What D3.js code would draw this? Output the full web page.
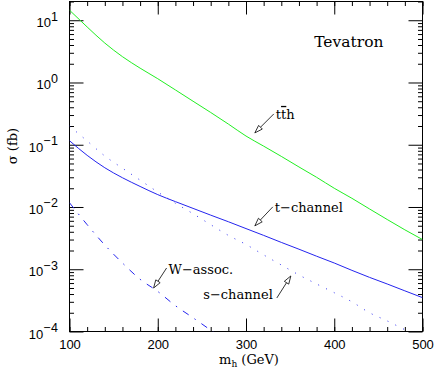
<!DOCTYPE html>
<html>
<head>
<meta charset="utf-8">
<script src="https://cdn.jsdelivr.net/npm/d3@7"></script>
<style>
  body { margin: 0; background: #fff; }
  svg { display: block; }
  .tick-label { font-family: "Liberation Sans", Arial, sans-serif; font-size: 13px; fill: #000; }
  .note { font-family: "DejaVu Serif", serif; font-size: 13px; fill: #000; }
</style>
</head>
<body>
<div id="chart"><svg></svg></div>
<script>
'use strict';

// Higgs mass grid (GeV)
var masses = [100, 120, 140, 160, 180, 200, 220, 240, 260, 280, 300,
              320, 340, 360, 380, 400, 420, 440, 460, 480, 500];

// cross sections in fb
var tthXsec = [14.5, 7.8, 4.3, 2.6, 1.7, 1.15, 0.76, 0.50, 0.33, 0.215, 0.138,
               0.095, 0.065, 0.044, 0.030, 0.020, 0.0138, 0.0093, 0.0063, 0.0043, 0.0030];
var tChannelXsec = [0.116, 0.0676, 0.0427, 0.0295, 0.0214, 0.0158, 0.0122, 0.0095, 0.0074, 0.0058, 0.0045,
                    0.0035, 0.0027, 0.0021, 0.00162, 0.00126, 0.00096, 0.00074, 0.00058, 0.00045, 0.00035];
var sChannelXsec = [0.20, 0.115, 0.066, 0.042, 0.027, 0.0174, 0.0115, 0.0078, 0.0052, 0.0035, 0.0025,
                    0.0017, 0.00117, 0.00081, 0.00058, 0.00042, 0.00030, 0.00020, 0.000148, 0.000107, 0.000079];
var wAssocMasses = [100, 120, 140, 160, 180, 200, 220, 240, 260, 280];
var wAssocXsec = [0.0117, 0.0052, 0.00245, 0.00126, 0.00069, 0.00044, 0.00026, 0.000166, 0.000105, 0.000066];

// axis ticks
var xMajorTicks = [100, 200, 300, 400, 500];
var xMinorTicks = d3.range(100, 501, 20);
var yDecades = [-4, -3, -2, -1, 0, 1];

// arrow annotations: tip in data coords, tail offset and label offset in px
var noteLabels = ['t\u2212channel', 's\u2212channel', 'W\u2212assoc.', 'tth'];
var noteTipMass = [310, 350.8, 195.3, 310];
var noteTipXsec = [0.00498, 0.00078, 0.00050, 0.155];

var width = 436, height = 371;
var margins = { top: 1.5, right: 13.5, bottom: 39.5, left: 69.5 };
var chartW = width - margins.left - margins.right;
var chartH = height - margins.top - margins.bottom;

var svg = d3.select('svg').attr('width', width).attr('height', height);

var x = d3.scaleLinear().domain([100, 500]).range([0, chartW]);
var y = d3.scaleLog().domain([1e-4, 20]).range([chartH, 0]);

var g = svg.append('g').attr('transform', 'translate(' + margins.left + ',' + margins.top + ')');

g.append('clipPath').attr('id', 'plot-clip')
  .append('rect').attr('x', 0).attr('y', 0).attr('width', chartW).attr('height', chartH);

// minor log ticks 2..9 per decade
var yMinorTicks = [];
yDecades.forEach(function (p) {
  for (var k = 2; k <= 9; k++) {
    var v = k * Math.pow(10, p);
    if (v <= 20) yMinorTicks.push(v);
  }
});
var yMajorTicks = yDecades.map(function (p) { return Math.pow(10, p); });

function styleAxis(sel) {
  sel.select('.domain').remove();
  sel.selectAll('.tick line').attr('stroke', '#000').attr('stroke-width', 1);
}

// inward ticks on all four sides
g.append('g').attr('transform', 'translate(0,' + chartH + ')')
  .call(d3.axisBottom(x).tickValues(xMinorTicks).tickSize(-4.5).tickFormat(''))
  .call(styleAxis);
var xAxisMajor = g.append('g').attr('transform', 'translate(0,' + chartH + ')')
  .call(d3.axisBottom(x).tickValues(xMajorTicks).tickSize(-13).tickPadding(8).tickFormat(d3.format('d')))
  .call(styleAxis);
xAxisMajor.selectAll('text').attr('class', 'tick-label').attr('font-family', null).attr('font-size', null).attr('fill', null);

g.append('g')
  .call(d3.axisTop(x).tickValues(xMinorTicks).tickSize(-4.5).tickFormat(''))
  .call(styleAxis);
g.append('g')
  .call(d3.axisTop(x).tickValues(xMajorTicks).tickSize(-13).tickFormat(''))
  .call(styleAxis);

g.append('g')
  .call(d3.axisLeft(y).tickValues(yMinorTicks).tickSize(-4.5).tickFormat(''))
  .call(styleAxis);
g.append('g')
  .call(d3.axisLeft(y).tickValues(yMajorTicks).tickSize(-14).tickFormat(''))
  .call(styleAxis);
g.append('g').attr('transform', 'translate(' + chartW + ',0)')
  .call(d3.axisRight(y).tickValues(yMinorTicks).tickSize(-4.5).tickFormat(''))
  .call(styleAxis);
g.append('g').attr('transform', 'translate(' + chartW + ',0)')
  .call(d3.axisRight(y).tickValues(yMajorTicks).tickSize(-14).tickFormat(''))
  .call(styleAxis);

// y tick labels: 10 with superscript exponent
var yLabel = g.append('g').selectAll('text.ylab').data(yDecades).enter().append('text')
  .attr('class', 'tick-label ylab')
  .attr('text-anchor', 'end')
  .attr('x', -11)
  .attr('y', function (d) { return y(Math.pow(10, d)) + 7; });
yLabel.append('tspan').text('10');
yLabel.append('tspan')
  .attr('dy', -6.5)
  .style('font-size', '12.5px')
  .attr('letter-spacing', '0.5px')
  .text(function (d) { return d < 0 ? '\u2212' + (-d) : String(d); });

// frame
g.append('rect')
  .attr('x', 0).attr('y', 0).attr('width', chartW).attr('height', chartH)
  .attr('fill', 'none').attr('stroke', '#000').attr('stroke-width', 1);

// curves
var plot = g.append('g').attr('clip-path', 'url(#plot-clip)');
var line = d3.line()
  .x(function (d) { return x(d[0]); })
  .y(function (d) { return y(d[1]); })
  .curve(d3.curveMonotoneX);

function drawCurve(ms, vals, color, dash) {
  plot.append('path')
    .datum(d3.zip(ms, vals))
    .attr('d', line)
    .attr('fill', 'none')
    .attr('stroke', color)
    .attr('stroke-width', 1)
    .attr('stroke-dasharray', dash);
}

drawCurve(masses, tthXsec, '#22ee22', null);
drawCurve(masses, tChannelXsec, '#2424ee', null);
drawCurve(masses, sChannelXsec, '#3030f0', '1,7.7');
drawCurve(wAssocMasses, wAssocXsec, '#2424ee', '7,7,1.5,7');

// arrows with open heads
var tailDx = [18, -14, 13, 19];
var tailDy = [-19, 22, -20, -19];
var labelDx = [2, -4, 2, 2];
var labelDy = [5, 1, 6, 5];
var notes = g.append('g');
noteLabels.forEach(function (lab, i) {
  var tx = x(noteTipMass[i]), ty = y(noteTipXsec[i]);
  var ex = tx + tailDx[i], ey = ty + tailDy[i];
  var ang = Math.atan2(ey - ty, ex - tx);
  var headL = 8, headW = 2.6;
  var bx = tx + headL * Math.cos(ang), by = ty + headL * Math.sin(ang);
  var px = -Math.sin(ang) * headW, py = Math.cos(ang) * headW;
  notes.append('line')
    .attr('x1', bx).attr('y1', by).attr('x2', ex).attr('y2', ey)
    .attr('stroke', '#000').attr('stroke-width', 0.8);
  notes.append('path')
    .attr('d', 'M' + tx + ',' + ty + 'L' + (bx + px) + ',' + (by + py) + 'L' + (bx - px) + ',' + (by - py) + 'Z')
    .attr('fill', '#fff').attr('stroke', '#000').attr('stroke-width', 0.8);
  var t = notes.append('text').attr('class', 'note')
    .attr('x', ex + labelDx[i]).attr('y', ey + labelDy[i])
    .attr('text-anchor', labelDx[i] < 0 ? 'end' : 'start');
  if (lab === 'tth') {
    t.append('tspan').text('t');
    t.append('tspan').style('text-decoration', 'overline').text('t');
    t.append('tspan').text('h');
  } else {
    t.text(lab);
  }
});

// collider label
g.append('text').attr('class', 'note')
  .attr('x', chartW - 39).attr('y', 45)
  .attr('text-anchor', 'end')
  .style('font-size', '15.5px')
  .text('Tevatron');

// axis titles
var xTitle = svg.append('text').attr('class', 'note')
  .attr('x', margins.left + chartW / 2 + 3)
  .attr('y', 364)
  .attr('text-anchor', 'middle');
xTitle.append('tspan').text('m');
xTitle.append('tspan').style('font-size', '9px').attr('dy', 2.5).text('h');
xTitle.append('tspan').attr('dy', -2.5).text(' (GeV)');

svg.append('text').attr('class', 'note')
  .attr('transform', 'translate(17,146) rotate(-90)')
  .attr('text-anchor', 'middle')
  .text('\u03c3 (fb)');
</script>
</body>
</html>
